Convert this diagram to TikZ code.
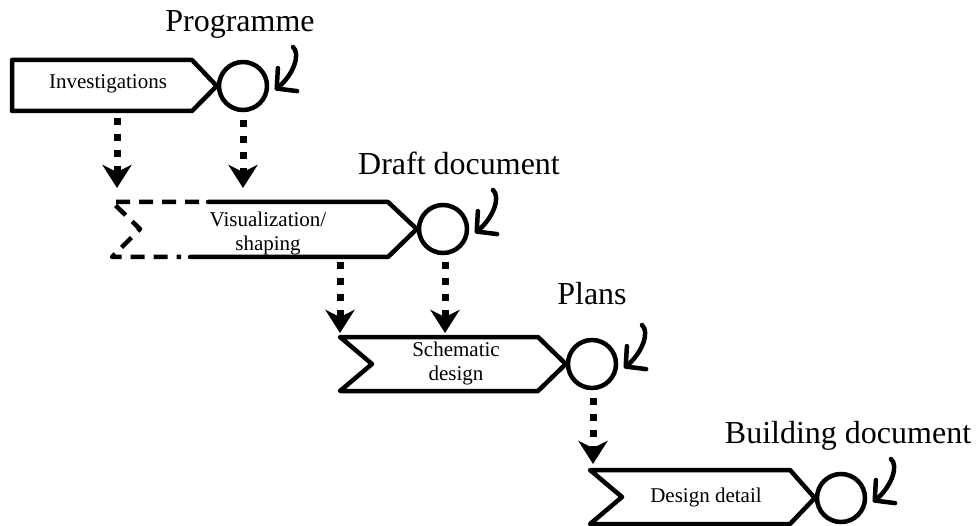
\documentclass[tikz,border=0pt]{standalone}
\usepackage{fontspec}
\setmainfont{Liberation Serif}
\usetikzlibrary{arrows.meta}
\begin{document}
\begin{tikzpicture}[x=1pt,y=-1pt,
  outline/.style={line width=4.5pt,line join=round,line cap=round},
  milestone/.style={circle,draw,line width=4.5pt,minimum size=48pt,inner sep=0pt},
  boxtext/.style={font=\fontsize{21}{24}\selectfont,align=center},
  doclabel/.style={font=\fontsize{32}{38}\selectfont,anchor=base},
  flow/.style={line width=7pt,dash pattern=on 7pt off 9pt,
    -{Stealth[length=23pt,width=29pt,inset=7pt]}},
  pointer/.style={line width=4.5pt,line cap=round,
    -{Straight Barb[length=14pt,width=30pt,round]}}]
\useasboundingbox (0,0) rectangle (976,526);

% milestones
\node[milestone] (c1) at (243,86) {};
\node[milestone] (c2) at (443,229) {};
\node[milestone] (c3) at (592,364) {};
\node[milestone] (c4) at (841,498) {};

% stage 1: Investigations
\draw[outline] (12,60) -- (192,60) -- (c1.west) -- (192,111) -- (12,111) -- cycle;
\node[boxtext] (s1) at (108,84) {Investigations};

% stage 2: Visualization/shaping, open tail drawn dashed
\draw[outline] (208,202) -- (388,202) -- (c2.west) -- (388,257) -- (190,257);
\draw[outline,line cap=butt,dash pattern=on 14pt off 9pt]
  (199,202) -- (112,202) -- (140,229) -- (112,257) -- (181,257);
\node[boxtext] (s2) at (268,233) {Visualization/\\shaping};

% stage 3: Schematic design
\draw[outline] (340,337) -- (538,337) -- (c3.west) -- (538,391) -- (340,391) -- (372,364) -- cycle;
\node[boxtext] (s3) at (456,363) {Schematic\\design};

% stage 4: Design detail
\draw[outline] (590,470) -- (790,470) -- (c4.west) -- (790,524) -- (590,524) -- (622,497) -- cycle;
\node[boxtext] (s4) at (706,497) {Design detail};

% document labels
\node[doclabel] (d1) at (240,32) {Programme};
\node[doclabel] (d2) at (459,175) {Draft document};
\node[doclabel] (d3) at (592,305) {Plans};
\node[doclabel] (d4) at (848,443) {Building document};

% hooked pointers from each label to its milestone
\foreach \c in {c1,c2,c3,c4}{
  \coordinate (\c-from) at ([shift={(50,-39)}]\c.center);
  \coordinate (\c-to) at ([shift={(32,4)}]\c.center);
  \draw[pointer] (\c-from) .. controls +(8,7) and +(18,-15) .. (\c-to);
}

% flow between stages
\coordinate (a1) at (117,118); \coordinate (b1) at (117,188);
\coordinate (a2) at (243,120); \coordinate (b2) at (243,188);
\coordinate (a3) at (340,262); \coordinate (b3) at (340,333);
\coordinate (a4) at (445,262); \coordinate (b4) at (445,333);
\coordinate (a5) at (593,398); \coordinate (b5) at (593,464);
\draw[flow] (a1) -- (b1);
\draw[flow] (a2) -- (b2);
\draw[flow] (a3) -- (b3);
\draw[flow] (a4) -- (b4);
\draw[flow] (a5) -- (b5);
\end{tikzpicture}
\end{document}
